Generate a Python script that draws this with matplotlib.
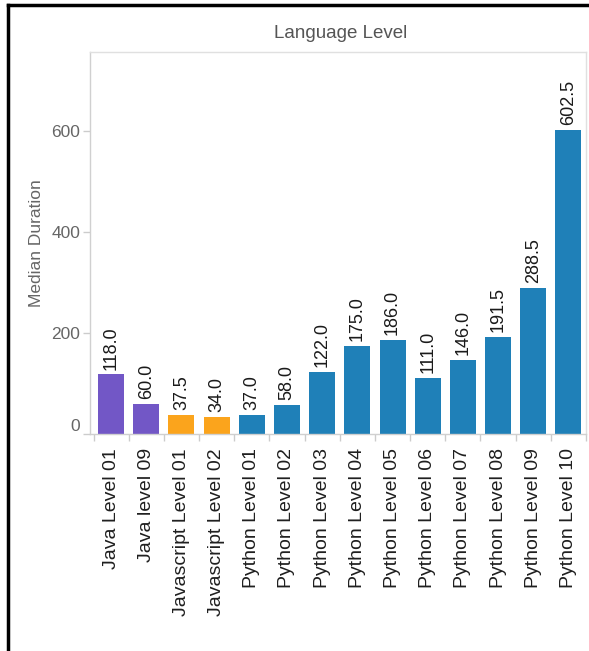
import matplotlib
matplotlib.use("Agg")
import matplotlib.pyplot as plt
from matplotlib.lines import Line2D

categories = ["Java Level 01", "Java level 09", "Javascript Level 01", "Javascript Level 02",
              "Python Level 01", "Python Level 02", "Python Level 03", "Python Level 04",
              "Python Level 05", "Python Level 06", "Python Level 07", "Python Level 08",
              "Python Level 09", "Python Level 10"]
languages = ["Java", "Java", "Javascript", "Javascript"] + ["Python"] * 10
values = [118.0, 60.0, 37.5, 34.0, 37.0, 58.0, 122.0, 175.0, 186.0, 111.0, 146.0, 191.5, 288.5, 602.5]
yticks = [0, 200, 400, 600]
colors = {"Java": "#7257c6", "Javascript": "#fba41c", "Python": "#1f80b8"}

plt.rcParams['font.family'] = ['Liberation Sans', 'DejaVu Sans']

fig = plt.figure(figsize=(5.89, 6.51), dpi=100)
ax = fig.add_axes([90/589, 1-434/651, (586-90)/589, (434-52)/651])

x = list(range(len(categories)))
bars = ax.bar(x, values, width=0.74, color=[colors[l] for l in languages], zorder=2)
for xi, v in zip(x, values):
    ax.annotate(f"{v:.1f}", (xi, v), xytext=(0, 3.5), textcoords="offset points",
                rotation=90, ha="center", va="bottom", fontsize=13, color="#1a1a1a")

ax.set_xlim(-0.6, len(categories) - 1 + 0.48)
ax.set_ylim(0, 756)
ax.set_yticks(yticks)
ax.set_yticklabels([str(t) for t in yticks], fontsize=12.5, color="#666666")
ax.set_xticks(x)
ax.set_xticklabels(categories, rotation=90, fontsize=14, color="#1f1f1f", va="top", ha="center")
ax.tick_params(axis="x", length=0, pad=10)
ax.set_xticks([i - 0.5 for i in range(len(categories) + 1)], minor=True)
ax.tick_params(axis="x", which="minor", length=5, color="#cccccc", width=1)
ax.tick_params(axis="y", length=5, color="#cccccc", width=1, pad=2)
for lbl in ax.get_yticklabels():
    if lbl.get_text() == "0":
        lbl.set_va("bottom")

for s in ["top", "right"]:
    ax.spines[s].set_color("#e0e0e0")
    ax.spines[s].set_linewidth(1)
for s in ["left", "bottom"]:
    ax.spines[s].set_color("#d0d0d0")
    ax.spines[s].set_linewidth(1)

ax.set_ylabel("Median Duration", fontsize=12.5, color="#666666", labelpad=5)
fig.text(341/589, 1-33/651, "Language Level", ha="center", va="center", fontsize=13.5, color="#555555")

# outer frame lines
fig.add_artist(Line2D([8/589, 8/589], [0, 1-5/651], color="black", linewidth=2.5, transform=fig.transFigure))
fig.add_artist(Line2D([8/589, 1], [1-5/651, 1-5/651], color="black", linewidth=2.5, transform=fig.transFigure))

fig.savefig("out.png", dpi=100, facecolor="white")
